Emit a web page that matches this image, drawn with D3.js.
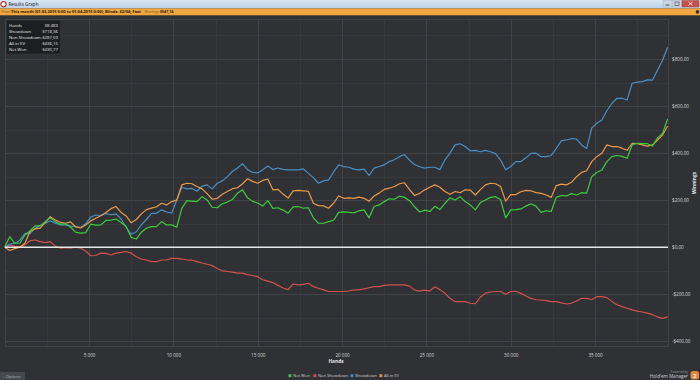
<!DOCTYPE html>
<html><head><meta charset="utf-8">
<script src="https://cdn.jsdelivr.net/npm/d3@7/dist/d3.min.js"></script>
<style>
html,body{margin:0;padding:0;background:#2f3135;overflow:hidden;}
svg{display:block;font-family:"Open Sans","Noto Sans",sans-serif;}
</style></head><body>
<svg id="chart" width="700" height="380"></svg>
<script>
// ---- data ----
const handStep = 300; // hands between samples
const netWon = [0,45,17,17,52,70,91,91,109,125,109,98,100,86,64,60,62,98,94,95,114,115,120,105,88,42,35,64,81,88,88,109,95,95,
85,165,198,196,194,215,201,170,168,185,192,203,230,244,210,195,188,175,198,165,168,158,145,172,173,166,168,125,102,102,109,115,148,150,
148,146,155,159,125,173,180,194,206,204,217,212,198,172,150,158,152,174,160,187,210,201,215,194,180,159,190,201,212,215,202,125,159,
160,163,175,185,175,148,155,152,212,220,218,228,222,232,230,300,318,328,364,385,390,386,378,435,442,440,440,430,465,484,545];
const allInEV = [0,-14,-6,0,17,67,78,81,105,130,116,106,102,108,87,82,95,112,123,134,148,164,173,148,133,104,118,142,160,166,172,187,180,194,
200,265,272,270,258,248,228,204,208,225,237,249,253,270,291,280,272,284,290,244,246,226,209,240,242,240,238,187,177,176,166,187,218,208,
210,208,213,208,196,218,230,246,251,258,270,274,245,220,229,244,255,265,255,237,225,237,232,244,243,222,245,265,272,270,258,196,224,
224,236,242,240,232,229,222,212,262,268,265,276,300,318,325,364,385,399,435,428,428,421,412,442,440,435,430,435,455,477,515];
const showdown = [0,14,17,30,59,58,81,92,102,112,102,95,95,90,88,84,100,128,137,135,144,138,142,120,85,55,66,95,118,143,145,159,150,145,
201,255,248,250,238,260,265,248,272,282,300,322,337,355,330,318,316,329,345,330,337,331,329,329,329,333,314,296,272,282,286,320,350,343,
340,332,329,332,305,336,343,350,364,372,385,394,370,352,342,336,340,340,330,371,400,435,440,428,410,412,406,412,406,398,370,329,343,
364,364,380,399,400,385,385,390,420,452,456,462,460,435,420,506,527,541,580,612,633,633,626,697,702,704,711,710,752,795,850];
const nonShowdown = [0,10,4,3,10,28,31,24,20,24,5,-4,-2,-4,0,-4,-16,-36,-35,-25,-26,-33,-25,-22,-18,-25,-40,-50,-54,-61,-61,-54,-54,-47,
-47,-50,-54,-55,-61,-67,-72,-78,-90,-100,-103,-106,-110,-110,-116,-120,-125,-138,-144,-150,-162,-173,-180,-156,-160,-158,-153,-167,-174,-181,-188,-188,-188,-188,
-186,-181,-181,-177,-172,-167,-167,-162,-160,-160,-160,-160,-165,-182,-186,-182,-186,-168,-180,-195,-217,-231,-231,-231,-238,-240,-212,-195,-190,-188,-188,-200,-188,
-187,-196,-207,-217,-223,-224,-227,-231,-231,-236,-241,-238,-228,-217,-217,-222,-210,-210,-214,-230,-244,-252,-259,-266,-271,-275,-280,-286,-296,-302,-296];
const xTicks = [5000,10000,15000,20000,25000,30000,35000];
const yTicks = [-400,-200,0,200,400,600,800];
const legendNames = ["Net Won","Non Showdown","Showdown","All-in EV"];
const statLabels = ["Hands","Showdown","Non Showdown","All-in EV","Net Won"];
const statValues = ["38 483","$718,36","-$287,59","$436,15","$430,77"];
const filterText = "This month (01.03.2015 0:00 to 01.04.2015 0:00); Blinds: $2/$4; Fast";
const winningsText = "$547,14";

// ---- layout ----
const svg = d3.select("#chart");
const plot = {l:5, r:668, t:19, b:346};
const x = d3.scaleLinear().domain([0, 39300]).range([4.7, 667.6]);
const y = d3.scaleLinear().domain([-400, 800]).range([341.4, 59.0]);
const colors = {net:"#3ccc3c", non:"#d0524c", sd:"#4a8fc4", ev:"#eb9a48"};

// background
svg.append("rect").attr("width",700).attr("height",380).attr("fill","#2f3135");

// title bar
const tg = svg.append("defs").append("linearGradient").attr("id","tb").attr("x1",0).attr("y1",0).attr("x2",0).attr("y2",1);
tg.append("stop").attr("offset","0").attr("stop-color","#dae6f4");
tg.append("stop").attr("offset","1").attr("stop-color","#bcd1ea");
svg.append("rect").attr("x",0).attr("y",0).attr("width",700).attr("height",8.5).attr("fill","url(#tb)");
svg.append("circle").attr("cx",3.5).attr("cy",4.2).attr("r",2.6).attr("fill","#fff").attr("stroke","#c0392b").attr("stroke-width",1.2);
svg.append("text").attr("x",8.5).attr("y",6.3).attr("font-size",4.6).attr("fill","#1a1a1a").text("Results Graph");
// window buttons
svg.append("rect").attr("x",663).attr("y",0.5).attr("width",9).attr("height",6.5).attr("fill","#c9d6e6").attr("stroke","#98a8bc").attr("stroke-width",0.4);
svg.append("rect").attr("x",672.5).attr("y",0.5).attr("width",9).attr("height",6.5).attr("fill","#c9d6e6").attr("stroke","#98a8bc").attr("stroke-width",0.4);
svg.append("rect").attr("x",682).attr("y",0.5).attr("width",17).attr("height",6.5).attr("fill","#c7504a").attr("stroke","#8e3a36").attr("stroke-width",0.4);
svg.append("line").attr("x1",665.5).attr("x2",669.5).attr("y1",5).attr("y2",5).attr("stroke","#333").attr("stroke-width",0.8);
svg.append("rect").attr("x",675).attr("y",2).attr("width",4).attr("height",3.5).attr("fill","none").attr("stroke","#333").attr("stroke-width",0.6);
svg.append("path").attr("d","M688.5,2 L692.5,5.5 M692.5,2 L688.5,5.5").attr("stroke","#fff").attr("stroke-width",0.8);

// filter bar
svg.append("rect").attr("x",0).attr("y",8.5).attr("width",700).attr("height",6.8).attr("fill","#f2a73e");
svg.append("text").attr("x",1.5).attr("y",13.4).attr("font-size",3.6).attr("fill","#6b4a1a").text("Filter:");
svg.append("text").attr("x",11).attr("y",13.4).attr("font-size",4.0).attr("font-weight","bold").attr("fill","#1f1a12").text(filterText);
svg.append("text").attr("x",144.5).attr("y",13.4).attr("font-size",3.3).attr("fill","#7a5a2e").text("Winnings:");
svg.append("text").attr("x",160).attr("y",13.4).attr("font-size",3.6).attr("font-weight","bold").attr("fill","#1f1a12").text(winningsText);
svg.append("circle").attr("cx",697.5).attr("cy",11.9).attr("r",1.8).attr("fill","#2f3135");

// grid
const g = svg.append("g");
const minorY = d3.range(-400, 901, 100);
g.selectAll("line.hy").data(minorY).join("line")
  .attr("x1",plot.l).attr("x2",plot.r).attr("y1",d=>Math.round(y(d))+0.5).attr("y2",d=>Math.round(y(d))+0.5)
  .attr("stroke", d=> d%200===0 ? "#45484e" : "#393c41").attr("stroke-width",0.8);
const minorX = d3.range(2500, 39300, 2500);
g.selectAll("line.vx").data(minorX).join("line")
  .attr("y1",plot.t).attr("y2",plot.b).attr("x1",d=>Math.round(x(d))+0.5).attr("x2",d=>Math.round(x(d))+0.5)
  .attr("stroke", d=> d%5000===0 ? "#45484e" : "#393c41").attr("stroke-width",0.8);
g.append("rect").attr("x",plot.l+0.5).attr("y",plot.t+0.5).attr("width",plot.r-plot.l).attr("height",plot.b-plot.t)
  .attr("fill","none").attr("stroke","#45484e").attr("stroke-width",0.8);

// axes
const xAxis = d3.axisBottom(x).tickValues(xTicks).tickSize(0).tickPadding(0)
  .tickFormat(d => d3.format(",")(d).replace(/,/g," "));
const xa = svg.append("g").attr("transform",`translate(0,${plot.b+8})`).call(xAxis);
xa.select(".domain").remove();
xa.selectAll("text").attr("font-size",4.6).attr("fill","#d8d8d8").attr("font-family","Open Sans, Noto Sans, sans-serif");

const yAxis = d3.axisRight(y).tickValues(yTicks).tickSize(0).tickPadding(0)
  .tickFormat(d => (d<0?"-":"") + "$" + Math.abs(d) + ",00");
const ya = svg.append("g").attr("transform",`translate(${plot.r+4},0)`).call(yAxis);
ya.select(".domain").remove();
ya.selectAll("text").attr("font-size",4.6).attr("fill","#d8d8d8").attr("font-family","Open Sans, Noto Sans, sans-serif");

svg.append("text").attr("x",336).attr("y",362.5).attr("text-anchor","middle").attr("font-size",4.8)
  .attr("font-weight","bold").attr("fill","#e6e6e6").text("Hands");
svg.append("text").attr("transform","translate(695.5,183) rotate(-90)").attr("text-anchor","middle").attr("font-size",4.8)
  .attr("font-weight","bold").attr("fill","#e6e6e6").text("Winnings");

// series
const hx = (d,i) => x(i*handStep);
const line = d3.line().x(hx).y(d=>y(d)).curve(d3.curveLinear);
const series = [
  {v:nonShowdown, c:colors.non},
  {v:showdown, c:colors.sd},
  {v:allInEV, c:colors.ev},
  {v:netWon, c:colors.net}
];
svg.append("g").selectAll("path").data(series).join("path")
  .attr("d",d=>line(d.v)).attr("fill","none").attr("stroke",d=>d.c).attr("stroke-width",1.2)
  .attr("stroke-linejoin","round");

// zero line
svg.append("line").attr("x1",plot.l).attr("x2",plot.r).attr("y1",y(0)).attr("y2",y(0))
  .attr("stroke","#e8e8e8").attr("stroke-width",1.6);

// stats box
svg.append("rect").attr("x",7).attr("y",20.5).attr("width",53).attr("height",33).attr("fill","#1c1d20").attr("opacity",0.95);
const sg = svg.append("g");
statLabels.forEach((s,i)=>{
  sg.append("text").attr("x",9).attr("y",26.6+i*6.1).attr("font-size",4.3).attr("fill","#e8e8e8").text(s);
  sg.append("text").attr("x",58).attr("y",26.6+i*6.1).attr("font-size",4.3).attr("fill","#e8e8e8").attr("text-anchor","end").text(statValues[i]);
});

// legend
const legendColors = [colors.net, colors.non, colors.sd, colors.ev];
const legendX = [288.5, 313.5, 350.5, 379.5];
const legendW = [17, 30, 22, 15];
legendNames.forEach((n,i)=>{
  svg.append("rect").attr("x",legendX[i]).attr("y",374.3).attr("width",2.8).attr("height",2.8).attr("fill",legendColors[i]);
  svg.append("text").attr("x",legendX[i]+4.5).attr("y",377.3).attr("font-size",4.3).attr("fill","#cfcfcf")
    .attr("textLength",legendW[i]).attr("lengthAdjust","spacingAndGlyphs").text(n);
});

// options button
svg.append("rect").attr("x",0).attr("y",372).attr("width",25).attr("height",8).attr("fill","#45484d");
svg.append("text").attr("x",2.5).attr("y",377.6).attr("font-size",4).attr("fill","#bdbdbd").text("+  Options");

// powered by
svg.append("text").attr("x",688).attr("y",372.8).attr("text-anchor","end").attr("font-size",3.2).attr("fill","#9a9a9a").text("Powered by");
svg.append("text").attr("x",688).attr("y",378).attr("text-anchor","end").attr("font-size",4.6).attr("fill","#d0d0d0").text("Hold'em Manager");
svg.append("rect").attr("x",690.5).attr("y",371).attr("width",8.5).attr("height",8.5).attr("rx",2.5).attr("fill","#e8833a");
svg.append("text").attr("x",694.7).attr("y",378).attr("text-anchor","middle").attr("font-size",6).attr("font-weight","bold").attr("fill","#fff").text("2");
</script>
</body></html>
